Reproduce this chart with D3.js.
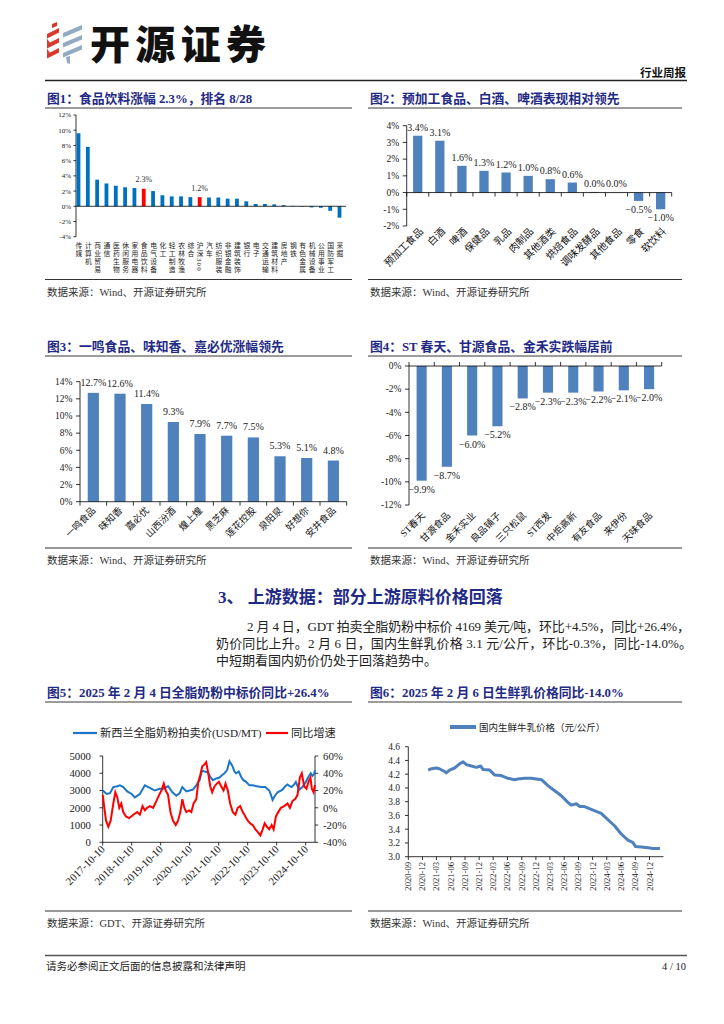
<!DOCTYPE html>
<html><head><meta charset="utf-8">
<script src="https://cdn.jsdelivr.net/npm/d3@7"></script>
<style>
html,body{margin:0;padding:0;background:#fff;}
svg{display:block;}
text{font-family:"Liberation Serif","Noto Sans CJK SC",serif;}
</style></head><body>
<svg id="page" width="724" height="1024"></svg>
<script>
// ---------------- DATA ----------------
const fig1Categories = ["传媒","计算机","商业贸易","通信","医药生物","休闲服务","家用电器","食品饮料","电气设备","化工","轻工制造","农林牧渔","综合","沪深300","汽车","纺织服装","非银金融","建筑装饰","银行","电子","交通运输","建筑材料","房地产","钢铁","有色金属","机械设备","公用事业","国防军工","采掘"];
const fig1Values = [9.6,7.8,3.5,3.0,2.7,2.5,2.4,2.3,2.0,1.45,1.3,1.3,1.2,1.2,1.15,1.15,1.0,1.0,0.65,0.3,0.3,0.25,0.15,0.05,-0.05,-0.15,-0.2,-0.6,-1.5];
const fig1Highlight = ["食品饮料","沪深300"];
const fig1Ticks = [-4,-2,0,2,4,6,8,10,12];

const fig2Categories = ["预加工食品","白酒","啤酒","保健品","乳品","肉制品","其他酒类","烘焙食品","调味发酵品","其他食品","零食","软饮料"];
const fig2Values = [3.4,3.1,1.6,1.3,1.2,1.0,0.8,0.6,0.04,0.01,-0.5,-1.0];
const fig2Ticks = [-2,-1,0,1,2,3,4];

const fig3Categories = ["一鸣食品","味知香","嘉必优","山西汾酒","煌上煌","黑芝麻","莲花控股","泉阳泉","好想你","安井食品"];
const fig3Values = [12.7,12.6,11.4,9.3,7.9,7.7,7.5,5.3,5.1,4.8];
const fig3Ticks = [0,2,4,6,8,10,12,14];

const fig4Categories = ["ST春天","甘源食品","金禾实业","良品铺子","三只松鼠","ST西发","中炬高新","有友食品","来伊份","天味食品"];
const fig4Values = [-9.9,-8.7,-6.0,-5.2,-2.8,-2.3,-2.3,-2.2,-2.1,-2.0];
const fig4Ticks = [-12,-10,-8,-6,-4,-2,0];

const gdtDates = ["2017-10-10","2017-11-29","2018-01-10","2018-02-21","2018-04-12","2018-05-15","2018-06-26","2018-08-15","2018-10-09","2018-11-19","2019-01-21","2019-03-25","2019-05-27","2019-07-28","2019-09-29","2019-11-18","2020-01-11","2020-03-06","2020-04-25","2020-06-06","2020-07-09","2020-08-28","2020-10-09","2020-11-20","2021-01-01","2021-02-12","2021-03-13","2021-04-15","2021-05-27","2021-06-25","2021-07-29","2021-09-09","2021-10-20","2021-11-23","2021-12-22","2022-01-25","2022-02-23","2022-03-28","2022-04-26","2022-05-17","2022-06-20","2022-07-19","2022-08-17","2022-09-20","2022-11-01","2022-12-12","2023-02-01","2023-03-27","2023-05-20","2023-07-09","2023-07-30","2023-08-20","2023-09-18","2023-10-22","2023-12-24","2024-01-26","2024-02-24","2024-03-25","2024-04-15","2024-05-18","2024-06-08","2024-06-29","2024-07-20","2024-08-31","2024-10-11","2024-11-14","2024-12-13","2025-01-03","2025-01-24","2025-02-04"];
const gdtPrice = [3000,2800,2850,3200,3250,3300,3200,2950,2800,2600,2800,3300,3150,3000,3100,3100,3250,2900,2700,2850,3200,2950,3000,3050,3300,3600,4150,4100,4050,3800,3600,3700,3750,3900,4000,4200,4700,4450,4100,4000,4100,3800,3600,3500,3300,3300,3250,3200,3200,3000,2750,2450,2700,2900,3050,3250,3350,3250,3200,3350,3500,3250,3050,3200,3500,3800,4000,3850,3950,4169];
const yoyDates = ["2017-10-10","2017-10-31","2017-11-21","2017-12-20","2018-01-18","2018-02-21","2018-03-18","2018-04-12","2018-05-07","2018-06-01","2018-06-26","2018-07-30","2018-09-09","2018-10-30","2018-12-19","2019-01-21","2019-02-24","2019-03-25","2019-04-23","2019-05-27","2019-07-07","2019-08-18","2019-09-21","2019-10-20","2019-11-18","2019-12-13","2020-01-11","2020-02-10","2020-03-14","2020-04-17","2020-05-16","2020-06-14","2020-07-09","2020-08-03","2020-08-28","2020-10-01","2020-10-30","2020-11-28","2021-01-01","2021-01-26","2021-02-20","2021-03-17","2021-04-11","2021-05-06","2021-05-31","2021-06-25","2021-07-20","2021-08-19","2021-09-17","2021-10-12","2021-11-10","2021-12-10","2022-01-04","2022-02-02","2022-03-03","2022-04-06","2022-05-09","2022-06-07","2022-07-07","2022-08-09","2022-09-11","2022-10-11","2022-11-09","2022-12-12","2023-01-15","2023-02-13","2023-03-19","2023-04-17","2023-05-12","2023-06-10","2023-07-09","2023-08-08","2023-09-02","2023-10-01","2023-10-30","2023-12-03","2024-01-14","2024-02-24","2024-03-25","2024-04-27","2024-05-30","2024-06-29","2024-07-28","2024-08-22","2024-09-20","2024-10-20","2024-11-14","2024-12-09","2024-12-26","2025-01-16","2025-02-04"];
const yoyValues = [15,0,-15,-22,-15,5,18,12,0,5,-5,-10,-12,-8,-5,-8,2,-3,0,2,0,8,15,20,28,20,15,-5,-15,-20,-15,-5,10,0,-5,-3,-5,5,10,30,38,48,50,53,40,25,18,25,28,30,25,20,28,20,5,-5,-8,0,2,-5,-10,-15,-18,-20,-25,-28,-32,-25,-18,-22,-25,-20,-25,-10,-5,0,2,5,0,8,10,15,35,40,25,22,30,35,22,18,26.4];
const gdtLeftTicks = [0,1000,2000,3000,4000,5000];
const gdtRightTicks = [-40,-20,0,20,40,60];
const gdtTickDates = ["2017-10-10","2018-10-10","2019-10-10","2020-10-10","2021-10-10","2022-10-10","2023-10-10","2024-10-10"];

const milkDates = ["2021-01-07","2021-01-28","2021-03-01","2021-03-20","2021-04-22","2021-05-03","2021-05-24","2021-06-26","2021-07-28","2021-08-20","2021-09-10","2021-10-12","2021-11-13","2021-12-10","2021-12-25","2022-02-07","2022-03-10","2022-04-22","2022-06-04","2022-07-16","2022-08-07","2022-09-19","2022-11-02","2022-12-04","2023-01-06","2023-02-18","2023-04-01","2023-05-12","2023-06-25","2023-07-16","2023-08-18","2023-09-09","2023-10-10","2023-11-22","2023-12-24","2024-01-25","2024-03-08","2024-04-20","2024-06-02","2024-07-15","2024-08-15","2024-09-01","2024-10-09","2024-11-21","2024-12-24","2025-02-06"];
const milkPrice = [4.26,4.28,4.29,4.28,4.24,4.22,4.26,4.29,4.35,4.38,4.34,4.32,4.30,4.32,4.27,4.26,4.19,4.18,4.14,4.12,4.13,4.14,4.14,4.13,4.12,4.03,3.96,3.89,3.79,3.75,3.77,3.73,3.73,3.69,3.66,3.63,3.54,3.45,3.33,3.24,3.21,3.15,3.14,3.13,3.12,3.12];
const milkTicks = [3.0,3.2,3.4,3.6,3.8,4.0,4.2,4.4,4.6];
const milkTickMonths = ["2020-09","2020-12","2021-03","2021-06","2021-09","2021-12","2022-03","2022-06","2022-09","2022-12","2023-03","2023-06","2023-09","2023-12","2024-03","2024-06","2024-09","2024-12"];

// ---------------- PAGE ----------------
const svg = d3.select("#page");
const NAVY = "#1F2A85";
const SERIF = '"Liberation Serif","Noto Sans CJK SC",serif';
const parse = d3.timeParse("%Y-%m-%d");

// header logo
const logo = svg.append("g");
[0,1,2].forEach(i=>{
  logo.append("path").attr("d",`M47,${34+i*10} L59,${28+i*10} L59,${32.5+i*10} L47,${38.5+i*10} Z`).attr("fill","#D9392B");
  logo.append("path").attr("d",`M63,${33+i*10} L82,${25+i*10} L82,${29.5+i*10} L63,${37.5+i*10} Z`).attr("fill","#93ABC0");
});
logo.append("path").attr("d","M52,24 L57,22 L57,26 L52,28 Z").attr("fill","#D9392B");
logo.append("path").attr("d","M47,38.5 L47,44 L50,43 Z M47,48.5 L47,54 L50,53 Z").attr("fill","#D9392B");
logo.append("path").attr("d","M66,57 L70,56 L70,64 L67,63 Z").attr("fill","#93ABC0");
svg.append("text").attr("x",90).attr("y",59).attr("font-size",40).attr("font-weight",900)
  .style("font-family",'"Noto Sans CJK SC",sans-serif').attr("fill","#111")
  .attr("textLength",176).attr("lengthAdjust","spacing").text("开源证券");
svg.append("text").attr("x",686).attr("y",77).attr("text-anchor","end").attr("font-size",11.5).attr("font-weight",700).attr("fill","#111").text("行业周报");
svg.append("line").attr("x1",45).attr("x2",687).attr("y1",80.5).attr("y2",80.5).attr("stroke","#222").attr("stroke-width",1.5);

function titleBlock(x0,x1,yBase,text){
  svg.append("text").attr("x",x0+2).attr("y",yBase).attr("font-size",12.8).attr("font-weight",700).attr("fill",NAVY).text(text);
  svg.append("line").attr("x1",x0).attr("x2",x1).attr("y1",yBase+5).attr("y2",yBase+5).attr("stroke","#9c9c9c").attr("stroke-width",2);
}
function sourceBlock(x0,x1,yLine,text){
  svg.append("line").attr("x1",x0).attr("x2",x1).attr("y1",yLine).attr("y2",yLine).attr("stroke","#333").attr("stroke-width",1);
  svg.append("text").attr("x",x0+2).attr("y",yLine+16).attr("font-size",10.5).attr("fill","#333").text(text);
}
const pct = v => d3.format(".1f")(v)+"%";

// ---------- Figure 1 ----------
titleBlock(45,352,103,"图1：食品饮料涨幅 2.3%，排名 8/28");
{
  const g = svg.append("g");
  const y = d3.scaleLinear().domain([-4,12]).range([236.7,115]);
  const x = d3.scalePoint().domain(fig1Categories).range([78.5,339.5]);
  const bw = 3.8;
  g.append("line").attr("x1",76).attr("x2",76).attr("y1",y(12)).attr("y2",y(-4)).attr("stroke","#000").attr("stroke-width",0.8);
  fig1Ticks.forEach(t=>{
    g.append("line").attr("x1",73.5).attr("x2",76).attr("y1",y(t)).attr("y2",y(t)).attr("stroke","#000").attr("stroke-width",0.8);
    g.append("text").attr("x",71).attr("y",y(t)).attr("dy","0.35em").attr("text-anchor","end").attr("font-size",7).attr("fill","#222").text(t+"%");
  });
  g.selectAll("rect.b").data(fig1Categories).enter().append("rect")
    .attr("x",d=>x(d)-bw/2).attr("width",bw)
    .attr("y",(d,i)=>Math.min(y(fig1Values[i]),y(0)))
    .attr("height",(d,i)=>Math.abs(y(fig1Values[i])-y(0)))
    .attr("fill",d=>fig1Highlight.includes(d)?"#FF0000":"#0070C0");
  g.append("line").attr("x1",76).attr("x2",346).attr("y1",y(0)).attr("y2",y(0)).attr("stroke","#000").attr("stroke-width",0.8);
  fig1Categories.forEach((c,i)=>{
    if(fig1Highlight.includes(c)){
      g.append("text").attr("x",x(c)).attr("y",y(fig1Values[i])-6.5).attr("text-anchor","middle").attr("font-size",8).attr("fill","#333").text(pct(fig1Values[i]));
    }
    g.append("text").attr("x",x(c)).attr("y",242).style("writing-mode","vertical-rl")
      .attr("font-size",6.8).attr("letter-spacing",1.2).attr("fill","#222").text(c);
  });
}
sourceBlock(45,352,279.5,"数据来源：Wind、开源证券研究所");

// ---------- generic bar chart ----------
function barChart(o){
  const g = svg.append("g");
  const y = d3.scaleLinear().domain(o.yDomain).range(o.yRange);
  const x = d3.scaleBand().domain(o.cats).range([o.x0,o.x1]).paddingInner(o.pad).paddingOuter(o.pad/2);
  g.append("line").attr("x1",o.x0).attr("x2",o.x0).attr("y1",o.yRange[0]).attr("y2",o.yRange[1]).attr("stroke","#000").attr("stroke-width",0.8);
  o.ticks.forEach(t=>{
    g.append("line").attr("x1",o.x0-4).attr("x2",o.x0).attr("y1",y(t)).attr("y2",y(t)).attr("stroke","#000").attr("stroke-width",0.8);
    g.append("text").attr("x",o.x0-7.5).attr("y",y(t)).attr("dy","0.35em").attr("text-anchor","end").attr("font-size",9.5).attr("fill","#222").text(t+"%");
  });
  g.selectAll("rect").data(o.cats).enter().append("rect")
    .attr("x",d=>x(d)).attr("width",x.bandwidth())
    .attr("y",(d,i)=>Math.min(y(o.vals[i]),y(0)))
    .attr("height",(d,i)=>Math.abs(y(o.vals[i])-y(0)))
    .attr("fill","#4F81BD");
  const y0 = y(0);
  g.append("line").attr("x1",o.x0).attr("x2",o.x1).attr("y1",y0).attr("y2",y0).attr("stroke","#000").attr("stroke-width",0.8);
  const step = x.step();
  for(let i=0;i<=o.cats.length;i++){
    const tx = o.x0 + i*step;
    g.append("line").attr("x1",tx).attr("x2",tx).attr("y1",y0).attr("y2",y0+o.tickDir*4).attr("stroke","#000").attr("stroke-width",0.8);
  }
  o.cats.forEach((c,i)=>{
    const v = o.vals[i], cx = x(c)+x.bandwidth()/2;
    const ly = v>=0 ? y(v)-o.labOff : y(v)+12;
    g.append("text").attr("x",cx).attr("y",ly).attr("text-anchor","middle").attr("font-size",10).attr("fill","#222").text(pct(v));
    g.append("text").attr("transform",`translate(${cx+o.catDx},${o.catY}) rotate(-45)`).attr("text-anchor","end")
      .attr("font-size",o.catSize).attr("fill","#111").text(c);
  });
}

titleBlock(368,682,103,"图2：预加工食品、白酒、啤酒表现相对领先");
barChart({cats:fig2Categories, vals:fig2Values, x0:406.7, x1:671.7, yDomain:[-2,4], yRange:[226,125.7], ticks:fig2Ticks, pad:0.58, tickDir:1, labOff:5, catDx:6, catY:232, catSize:10});
sourceBlock(368,682,279.5,"数据来源：Wind、开源证券研究所");

titleBlock(45,352,351,"图3：一鸣食品、味知香、嘉必优涨幅领先");
barChart({cats:fig3Categories, vals:fig3Values, x0:80, x1:346.7, yDomain:[0,14], yRange:[501.7,381.7], ticks:fig3Ticks, pad:0.58, tickDir:1, labOff:7, catDx:3, catY:511, catSize:9.5});
sourceBlock(45,352,548,"数据来源：Wind、开源证券研究所");

titleBlock(368,682,351,"图4：ST 春天、甘源食品、金禾实跌幅居前");
barChart({cats:fig4Categories, vals:fig4Values, x0:409, x1:661.7, yDomain:[-12,0], yRange:[505,366], ticks:fig4Ticks, pad:0.6, tickDir:-1, labOff:5, catDx:4, catY:516, catSize:9.5});
sourceBlock(368,682,548,"数据来源：Wind、开源证券研究所");

// ---------- Section text ----------
svg.append("text").attr("x",218).attr("y",603).attr("font-size",17).attr("font-weight",700).attr("fill",NAVY).text("3、 上游数据：部分上游原料价格回落");
svg.append("text").attr("x",247).attr("y",631).attr("font-size",13).attr("fill","#222")
  .attr("textLength",443).attr("lengthAdjust","spacing").text("2 月 4 日，GDT 拍卖全脂奶粉中标价 4169 美元/吨，环比+4.5%，同比+26.4%，");
svg.append("text").attr("x",216).attr("y",648).attr("font-size",13).attr("fill","#222")
  .attr("textLength",476).attr("lengthAdjust","spacing").text("奶价同比上升。2 月 6 日，国内生鲜乳价格 3.1 元/公斤，环比-0.3%，同比-14.0%。");
svg.append("text").attr("x",216).attr("y",665).attr("font-size",13).attr("fill","#222").text("中短期看国内奶价仍处于回落趋势中。");

// ---------- Figure 5 ----------
titleBlock(45,352,697,"图5：2025 年 2 月 4 日全脂奶粉中标价同比+26.4%");
{
  const g = svg.append("g");
  const x = d3.scaleTime().domain([parse("2017-10-10"),parse("2025-02-04")]).range([102.7,315]);
  const yl = d3.scaleLinear().domain([0,5000]).range([842.3,756]);
  const yr = d3.scaleLinear().domain([-40,60]).range([842.3,756]);
  const BLUE = "#1B75C9", RED = "#FF0000";
  // legend
  g.append("line").attr("x1",73).attr("x2",97).attr("y1",733).attr("y2",733).attr("stroke",BLUE).attr("stroke-width",2.2);
  g.append("text").attr("x",100).attr("y",737).attr("font-size",11.2).attr("fill","#222").text("新西兰全脂奶粉拍卖价(USD/MT)");
  g.append("line").attr("x1",266).attr("x2",288).attr("y1",733).attr("y2",733).attr("stroke",RED).attr("stroke-width",2.2);
  g.append("text").attr("x",291).attr("y",737).attr("font-size",11.2).attr("fill","#222").text("同比增速");
  // axes
  g.append("line").attr("x1",102.7).attr("x2",102.7).attr("y1",756).attr("y2",842.3).attr("stroke","#000").attr("stroke-width",0.8);
  g.append("line").attr("x1",315).attr("x2",315).attr("y1",756).attr("y2",842.3).attr("stroke","#000").attr("stroke-width",0.8);
  g.append("line").attr("x1",102.7).attr("x2",315).attr("y1",842.3).attr("y2",842.3).attr("stroke","#000").attr("stroke-width",0.8);
  gdtLeftTicks.forEach(t=>{
    g.append("line").attr("x1",99.5).attr("x2",102.7).attr("y1",yl(t)).attr("y2",yl(t)).attr("stroke","#000").attr("stroke-width",0.8);
    g.append("text").attr("x",91).attr("y",yl(t)).attr("dy","0.35em").attr("text-anchor","end").attr("font-size",10.8).attr("fill","#222").text(t);
  });
  gdtRightTicks.forEach(t=>{
    g.append("line").attr("x1",315).attr("x2",318.2).attr("y1",yr(t)).attr("y2",yr(t)).attr("stroke","#000").attr("stroke-width",0.8);
    g.append("text").attr("x",323).attr("y",yr(t)).attr("dy","0.35em").attr("text-anchor","start").attr("font-size",10.8).attr("fill","#222").text(t+"%");
  });
  gdtTickDates.forEach(d=>{
    const tx = x(parse(d));
    g.append("line").attr("x1",tx).attr("x2",tx).attr("y1",842.3).attr("y2",845.5).attr("stroke","#000").attr("stroke-width",0.8);
    g.append("text").attr("transform",`translate(${tx+3},${850}) rotate(-45)`).attr("text-anchor","end").attr("font-size",10.8).attr("fill","#222").text(d);
  });
  const blue = gdtDates.map((d,i)=>[parse(d),gdtPrice[i]]);
  const red = yoyDates.map((d,i)=>[parse(d),yoyValues[i]]);
  g.append("path").attr("d",d3.line().x(d=>x(d[0])).y(d=>yl(d[1]))(blue)).attr("fill","none").attr("stroke",BLUE).attr("stroke-width",2);
  g.append("path").attr("d",d3.line().x(d=>x(d[0])).y(d=>yr(d[1]))(red)).attr("fill","none").attr("stroke",RED).attr("stroke-width",2);
}
sourceBlock(45,352,911,"数据来源：GDT、开源证券研究所");

// ---------- Figure 6 ----------
titleBlock(368,682,697,"图6：2025 年 2 月 6 日生鲜乳价格同比-14.0%");
{
  const g = svg.append("g");
  const x = d3.scaleTime().domain([parse("2020-09-01"),parse("2025-03-01")]).range([408.3,663.5]);
  const y = d3.scaleLinear().domain([3.0,4.6]).range([856.7,746.7]);
  const C = "#4F81BD";
  g.append("line").attr("x1",450).attr("x2",476).attr("y1",727).attr("y2",727).attr("stroke",C).attr("stroke-width",4);
  g.append("text").attr("x",479).attr("y",730.5).attr("font-size",9.5).attr("fill","#222").text("国内生鲜牛乳价格（元/公斤）");
  g.append("line").attr("x1",408.3).attr("x2",408.3).attr("y1",746.7).attr("y2",856.7).attr("stroke","#000").attr("stroke-width",0.8);
  g.append("line").attr("x1",408.3).attr("x2",663.5).attr("y1",856.7).attr("y2",856.7).attr("stroke","#000").attr("stroke-width",0.8);
  milkTicks.forEach(t=>{
    g.append("line").attr("x1",405).attr("x2",408.3).attr("y1",y(t)).attr("y2",y(t)).attr("stroke","#000").attr("stroke-width",0.8);
    g.append("text").attr("x",400).attr("y",y(t)).attr("dy","0.35em").attr("text-anchor","end").attr("font-size",9.5).attr("fill","#222").text(t.toFixed(1));
  });
  milkTickMonths.forEach(m=>{
    const tx = x(parse(m+"-01"));
    g.append("line").attr("x1",tx).attr("x2",tx).attr("y1",856.7).attr("y2",860).attr("stroke","#000").attr("stroke-width",0.8);
    g.append("text").attr("transform",`translate(${tx+3},${862}) rotate(-90)`).attr("text-anchor","end").attr("font-size",8.6).attr("fill","#222").text(m);
  });
  const pts = milkDates.map((d,i)=>[parse(d),milkPrice[i]]);
  g.append("path").attr("d",d3.line().x(d=>x(d[0])).y(d=>y(d[1]))(pts)).attr("fill","none").attr("stroke",C).attr("stroke-width",3).attr("stroke-linejoin","round");
}
sourceBlock(368,682,911,"数据来源：Wind、开源证券研究所");

// ---------- footer ----------
svg.append("line").attr("x1",45).attr("x2",687).attr("y1",955.5).attr("y2",955.5).attr("stroke","#555").attr("stroke-width",1.5);
svg.append("text").attr("x",46).attr("y",970).attr("font-size",10.5).attr("fill","#222").text("请务必参阅正文后面的信息披露和法律声明");
svg.append("text").attr("x",686).attr("y",970).attr("text-anchor","end").attr("font-size",10.5).attr("fill","#222").text("4 / 10");
</script>
</body></html>
